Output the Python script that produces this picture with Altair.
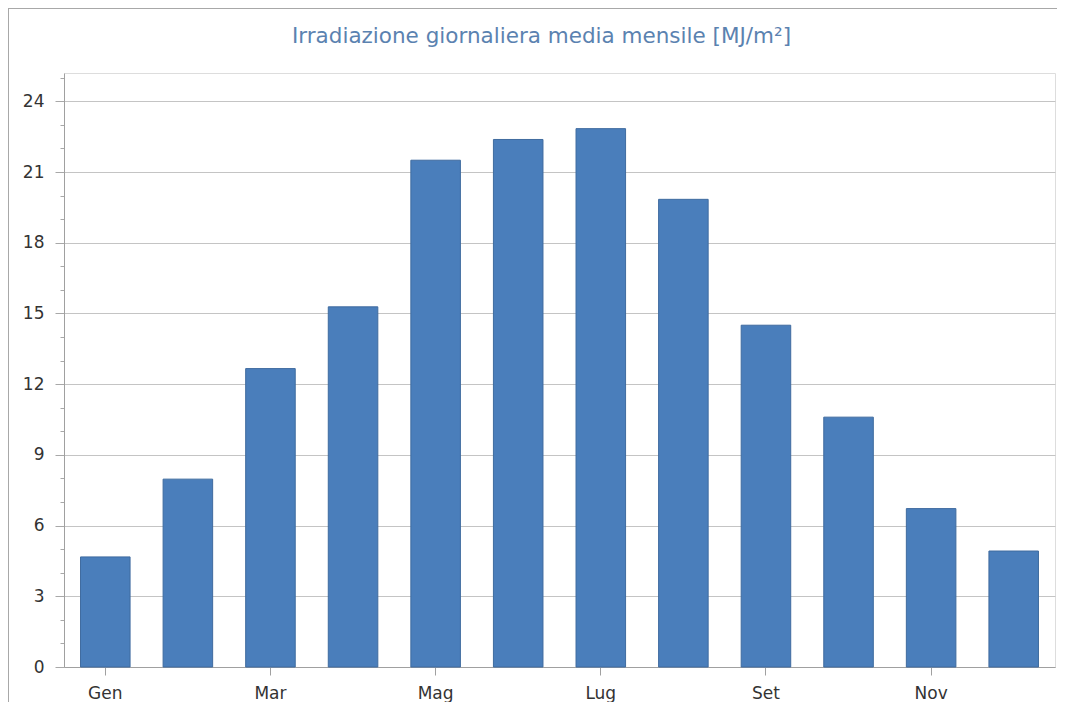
import altair as alt
import pandas as pd

months = ["Gen", "Feb", "Mar", "Apr", "Mag", "Giu", "Lug", "Ago", "Set", "Ott", "Nov", "Dic"]
values = [4.67, 7.97, 12.66, 15.28, 21.5, 22.38, 22.84, 19.84, 14.5, 10.6, 6.72, 4.92]
label_months = ["Gen", "Mar", "Mag", "Lug", "Set", "Nov"]
y_ticks = list(range(0, 26))
title_text = "Irradiazione giornaliera media mensile [MJ/m²]"

df = pd.DataFrame({"mese": months, "valore": values})

FONT = "DejaVu Sans"

bars = alt.Chart(df).mark_bar(
    color="#4a7ebb", stroke="#3f6b9f", strokeWidth=1
).encode(
    x=alt.X("mese:N", sort=months, title=None,
            scale=alt.Scale(paddingInner=0.4, paddingOuter=0.2),
            axis=alt.Axis(values=label_months, labelAngle=0, tickSize=8,
                          labelPadding=10, labelFontSize=17, labelFont=FONT,
                          labelColor="#333333", tickColor="#a0a0a0",
                          domainColor="#a0a0a0", grid=False)),
    y=alt.Y("valore:Q", title=None,
            scale=alt.Scale(domain=[0, 25.2], nice=False, zero=True),
            axis=alt.Axis(values=y_ticks,
                          labelExpr="datum.value % 3 == 0 ? datum.label : ''",
                          tickSize={"condition": {"test": "datum.value % 3 == 0", "value": 9}, "value": 4},
                          gridOpacity={"condition": {"test": "datum.value % 3 == 0", "value": 1}, "value": 0},
                          gridColor="#c4c4c4", tickColor="#a8a8a8",
                          domainColor="#a0a0a0", labelFontSize=17, labelFont=FONT,
                          labelColor="#333333", labelPadding=11)),
)

border_left = alt.Chart(df).mark_rule(color="#a8a8a8", strokeWidth=1).encode(
    x=alt.value(-55.5), y=alt.value(-65), y2=alt.value(650))
border_top = alt.Chart(df).mark_rule(color="#a8a8a8", strokeWidth=1).encode(
    x=alt.value(-56), x2=alt.value(993), y=alt.value(-64.5))

chart = alt.layer(bars, border_left, border_top).properties(
    width=991, height=594,
    title=alt.TitleParams(title_text, fontSize=21.5, font=FONT, fontWeight="normal",
                          color="#5b82b0", offset=-40, dx=-18, frame="group"),
    autosize=alt.AutoSizeParams(type="none"),
    padding={"left": 56, "top": 65, "right": 2, "bottom": 35},
).configure_view(stroke="#a8a8a8").configure(background="white")

chart.save("out.html", embed_options={"renderer": "svg", "actions": False})
